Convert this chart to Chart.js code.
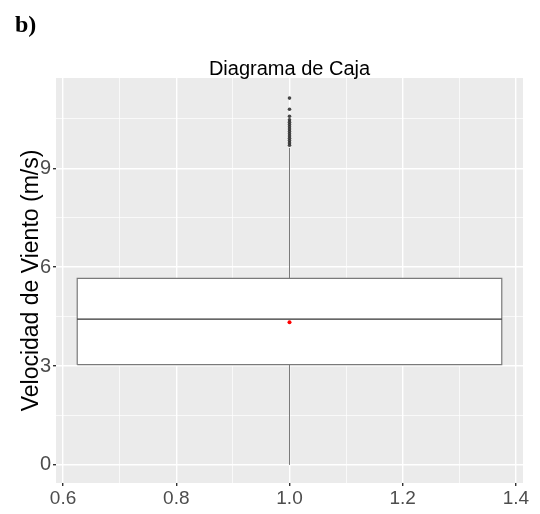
<!DOCTYPE html>
<html>
<head>
<meta charset="utf-8">
<script src="https://cdn.jsdelivr.net/npm/chart.js@4/dist/chart.umd.min.js"></script>
<style>
  html, body { margin: 0; padding: 0; background: #fff; }
  #wrap { width: 540px; height: 514px; }
</style>
</head>
<body>
<div id="wrap"><canvas id="boxChart" width="540" height="514"></canvas></div>
<script>
  // ────────── Data ──────────
  const panelLabel = 'b)';
  const chartTitle = 'Diagrama de Caja';
  const yLabel = 'Velocidad de Viento (m/s)';

  const boxX = 1.0;                 // box centre
  const boxHalfWidth = 0.375;       // box spans 0.625 .. 1.375
  const whiskerLow = 0.0;
  const q1 = 3.04;
  const median = 4.42;
  const q3 = 5.66;
  const whiskerHigh = 9.62;
  const meanValue = 4.33;
  const outliers = [11.13, 10.79, 10.58, 10.47, 10.40, 10.33, 10.26, 10.19, 10.12,
                    10.05, 9.98, 9.91, 9.84, 9.77, 9.70];

  const xTicksMajor = [0.6, 0.8, 1.0, 1.2, 1.4];
  const yTicksMajor = [0, 3, 6, 9];

  // ────────── Datasets built from the values ──────────
  const x0 = boxX - boxHalfWidth;
  const x1 = boxX + boxHalfWidth;

  // white fill between Q3 and Q1
  const boxTop = { type: 'line', data: [{x: x0, y: q3}, {x: x1, y: q3}],
    borderWidth: 0, borderColor: 'rgba(0,0,0,0)', backgroundColor: '#ffffff',
    fill: '+1', pointRadius: 0, order: 5 };
  const boxBottom = { type: 'line', data: [{x: x0, y: q1}, {x: x1, y: q1}],
    borderWidth: 0, borderColor: 'rgba(0,0,0,0)', pointRadius: 0, fill: false, order: 5 };

  const boxOutline = { type: 'line', data: [
      {x: x0, y: q1}, {x: x0, y: q3}, {x: x1, y: q3}, {x: x1, y: q1}, {x: x0, y: q1}
    ], borderColor: '#7a7a7a', borderWidth: 1.2, fill: false,
    pointRadius: 0, tension: 0, order: 3 };

  const medianLine = { type: 'line', data: [{x: x0, y: median}, {x: x1, y: median}],
    borderColor: '#333333', borderWidth: 1.3, pointRadius: 0, fill: false, order: 2 };

  const upperWhisker = { type: 'line', data: [{x: boxX, y: q3}, {x: boxX, y: whiskerHigh}],
    borderColor: '#7a7a7a', borderWidth: 1, pointRadius: 0, fill: false, order: 2 };

  const lowerWhisker = { type: 'line', data: [{x: boxX, y: whiskerLow}, {x: boxX, y: q1}],
    borderColor: '#7a7a7a', borderWidth: 1, pointRadius: 0, fill: false, order: 2 };

  const outlierPts = { type: 'scatter', data: outliers.map(v => ({x: boxX, y: v})),
    backgroundColor: 'rgba(40,40,40,0.85)', borderWidth: 0, pointRadius: 1.8, order: 1 };

  const meanPt = { type: 'scatter', data: [{x: boxX, y: meanValue}],
    backgroundColor: '#ff0000', borderWidth: 0, pointRadius: 2, order: 0 };

  const isMajor = (v, list) => list.some(m => Math.abs(m - v) < 1e-6);

  // ────────── Panel background + header texts ──────────
  const ggPanel = {
    id: 'gg-panel',
    beforeDraw(chart) {
      const {ctx, chartArea: a} = chart;
      ctx.save();
      ctx.fillStyle = '#ebebeb';
      ctx.fillRect(a.left, a.top, a.right - a.left, a.bottom - a.top);
      ctx.restore();
    },
    afterDraw(chart) {
      const {ctx, chartArea: a} = chart;
      ctx.save();
      ctx.fillStyle = '#000';
      ctx.textBaseline = 'alphabetic';
      ctx.textAlign = 'left';
      ctx.font = 'bold 24px "Liberation Serif", "Times New Roman", serif';
      ctx.fillText(panelLabel, 15, 32);
      ctx.textAlign = 'center';
      ctx.font = '20px "Liberation Sans", Arial, sans-serif';
      ctx.fillText(chartTitle, (a.left + a.right) / 2, 75);
      ctx.restore();
    }
  };

  const chart = new Chart(document.getElementById('boxChart').getContext('2d'), {
    type: 'scatter',
    data: { datasets: [boxTop, boxBottom, boxOutline, medianLine, upperWhisker, lowerWhisker, outlierPts, meanPt] },
    options: {
      responsive: false,
      animation: false,
      layout: { padding: { top: 78, right: 17, left: 0, bottom: 0 } },
      plugins: { legend: { display: false }, tooltip: { enabled: false } },
      scales: {
        x: {
          type: 'linear', min: 0.5875, max: 1.4125,
          border: { display: false },
          grid: {
            color: c => '#ffffff',
            lineWidth: c => isMajor(c.tick.value, xTicksMajor) ? 1.4 : 0.7,
            tickColor: c => isMajor(c.tick.value, xTicksMajor) ? '#333333' : 'rgba(0,0,0,0)',
            tickLength: 3
          },
          ticks: {
            stepSize: 0.1, autoSkip: false, includeBounds: false, maxRotation: 0,
            padding: 1, color: '#4d4d4d',
            font: { family: '"Liberation Sans", Arial, sans-serif', size: 19 },
            callback: v => isMajor(v, xTicksMajor) ? v.toFixed(1) : ''
          },
          afterFit(scale) { scale.height = 31; }
        },
        y: {
          type: 'linear', min: -0.55, max: 11.74,
          border: { display: false },
          grid: {
            color: c => '#ffffff',
            lineWidth: c => isMajor(c.tick.value, yTicksMajor) ? 1.4 : 0.7,
            tickColor: c => isMajor(c.tick.value, yTicksMajor) ? '#333333' : 'rgba(0,0,0,0)',
            tickLength: 3
          },
          ticks: {
            stepSize: 1.5, autoSkip: false, includeBounds: false,
            padding: 2, color: '#4d4d4d',
            font: { family: '"Liberation Sans", Arial, sans-serif', size: 20 },
            callback: v => isMajor(v, yTicksMajor) ? String(v) : ''
          },
          title: {
            display: true, text: yLabel, color: '#000',
            font: { family: '"Liberation Sans", Arial, sans-serif', size: 23 },
            padding: { top: 18, bottom: 0 }
          },
          afterFit(scale) { scale.width = 56; }
        }
      }
    },
    plugins: [ggPanel]
  });
</script>
</body>
</html>
